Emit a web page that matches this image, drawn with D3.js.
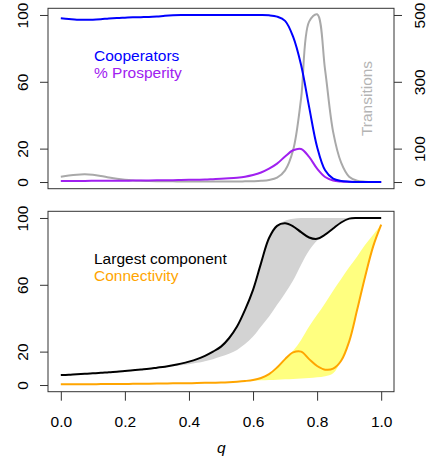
<!DOCTYPE html>
<html>
<head>
<meta charset="utf-8">
<script src="https://cdn.jsdelivr.net/npm/d3@7"></script>
<style>
  body { margin: 0; background: #fff; }
  svg text { font-family: 'Liberation Sans', Arial, sans-serif; }
</style>
</head>
<body>
<div id="chart"></div>
<script>
// q grid shared by every series
const q = [0, 0.025, 0.05, 0.075, 0.1, 0.125, 0.15, 0.175, 0.2, 0.225, 0.25, 0.275, 0.3, 0.325, 0.35, 0.375, 0.4, 0.425, 0.45, 0.475,
  0.5, 0.525, 0.55, 0.575, 0.6, 0.625, 0.65, 0.675, 0.7, 0.725, 0.75, 0.775, 0.8, 0.825, 0.85, 0.875, 0.9, 0.925, 0.95, 0.975, 1];

// top panel
const cooperators = [98, 97.6, 97.2, 97.1, 97.2, 97.5, 97.9, 98.2, 98.4, 98.6, 98.7, 98.8, 99.1, 99.5, 99.8, 100, 100, 100, 100, 100,
  100, 100, 100, 100, 100, 100, 99.8, 99, 96.5, 87, 70, 45, 21, 7, 2, 0.6, 0.2, 0, 0, 0, 0];
const prosperity = [0.6, 0.6, 0.6, 0.65, 0.7, 0.7, 0.75, 0.8, 0.8, 0.85, 0.9, 0.95, 1, 1.05, 1.1, 1.2, 1.3, 1.4, 1.5, 1.7,
  1.9, 2.2, 2.6, 3.2, 4.2, 5.7, 8, 11, 15.3, 19, 19.8, 15, 8, 3, 0.9, 0.3, 0.1, 0, 0, 0, 0];
const transitions = [16, 19.5, 22, 23, 21.5, 18, 13.5, 9.5, 6.5, 4.5, 3.5, 3, 2.5, 2, 2, 1.5, 1.5, 1.5, 1.5, 1.5,
  1.5, 1.5, 1.5, 2, 2.5, 3.5, 6, 13, 35, 95, 250, 480, 502, 335, 150, 58, 16, 4, 1, 0, 0];

// bottom panel
const largest = [6, 6.2, 6.5, 6.7, 7, 7.3, 7.7, 8, 8.4, 8.8, 9.3, 9.8, 10.4, 11, 11.8, 12.8, 14, 15.5, 17.5, 20,
  23, 28, 35, 45, 57, 73, 88, 95.3, 96.8, 95, 91.5, 88.3, 87.5, 90, 93.7, 97.3, 99.6, 100, 100, 100, 100];
const largestLow = [6, 6.2, 6.5, 6.7, 7, 7.3, 7.7, 8, 8.4, 8.8, 9.3, 9.8, 10.3, 10.7, 11.2, 11.8, 12.5, 13.3, 14.3, 15.5,
  17, 18.7, 21, 24.5, 29, 35, 41, 48, 55, 62.5, 72, 80.5, 86.5, 90, 93.7, 97.3, 99.6, 100, 100, 100, 100];
const largestHigh = [6, 6.2, 6.5, 6.7, 7, 7.3, 7.7, 8, 8.4, 8.8, 9.3, 9.8, 10.4, 11, 11.8, 12.8, 14, 15.5, 17.5, 20,
  23, 28, 35, 45, 57, 73, 88, 95.5, 98.3, 99.5, 100, 100, 100, 100, 100, 100, 100, 100, 100, 100, 100];
const connectivity = [0.4, 0.4, 0.45, 0.5, 0.5, 0.55, 0.6, 0.6, 0.65, 0.7, 0.75, 0.8, 0.85, 0.9, 1, 1.05, 1.1, 1.2, 1.3, 1.4,
  1.5, 1.7, 2, 2.4, 3, 4.2, 6.5, 10.5, 15.5, 19.5, 20, 15.5, 11.4, 9.2, 9.8, 14.5, 26, 45, 65, 83, 96];
const connLow = [0.4, 0.4, 0.45, 0.5, 0.5, 0.55, 0.6, 0.6, 0.65, 0.7, 0.75, 0.8, 0.85, 0.9, 1, 1.05, 1.1, 1.2, 1.3, 1.4,
  1.5, 1.7, 2, 2.3, 2.6, 2.8, 3, 3.2, 3.4, 3.6, 3.9, 4.2, 4.6, 5.3, 7, 14.5, 26, 45, 65, 83, 96];
const connHigh = [0.4, 0.4, 0.45, 0.5, 0.5, 0.55, 0.6, 0.6, 0.65, 0.7, 0.75, 0.8, 0.85, 0.9, 1, 1.05, 1.1, 1.2, 1.3, 1.4,
  1.5, 1.7, 2, 2.4, 3, 4.2, 6.5, 10.5, 15.5, 20.5, 27, 35, 42, 49, 56.5, 63.5, 70.5, 77, 84, 90, 96];

const xTicks = [0, 0.2, 0.4, 0.6, 0.8, 1];
const pctTicks = [0, 20, 60, 100];
const transTicks = [0, 100, 300, 500];

const width = 427, height = 463;
const fontSize = '15.5px';
const axisColor = '#333';

const svg = d3.select('#chart')
  .append('svg')
  .attr('width', width)
  .attr('height', height);

// R-style 4% padding on each axis
let x = d3.scaleLinear().domain([-0.04, 1.04]).range([48, 394]);
let yTop = d3.scaleLinear().domain([-4, 104]).range([188.7, 8.3]);
let yRight = d3.scaleLinear().domain([-20, 520]).range([188.7, 8.3]);
let yBot = d3.scaleLinear().domain([-4, 104]).range([391.7, 211.3]);

const curve = d3.curveCatmullRom.alpha(0.5);

const drawLine = (vals, yScale, color, w) => {
  svg.append('path')
    .datum(q.map((d, i) => [d, vals[i]]))
    .attr('fill', 'none')
    .attr('stroke', color)
    .attr('stroke-width', w)
    .attr('stroke-linejoin', 'round')
    .attr('d', d3.line().curve(curve).x(d => x(d[0])).y(d => yScale(d[1])));
}

const drawBand = (low, high, yScale, color) => {
  svg.append('path')
    .datum(q.map((d, i) => [d, low[i], high[i]]))
    .attr('fill', color)
    .attr('stroke', 'none')
    .attr('d', d3.area().curve(curve).x(d => x(d[0])).y0(d => yScale(d[1])).y1(d => yScale(d[2])));
}

const drawBox = (yScale) => {
  svg.append('rect')
    .attr('x', x.range()[0])
    .attr('y', yScale.range()[1])
    .attr('width', x.range()[1] - x.range()[0])
    .attr('height', yScale.range()[0] - yScale.range()[1])
    .attr('fill', 'none')
    .attr('stroke', axisColor)
    .attr('stroke-width', 1);
}

// left / right axes with labels rotated like R's las=0
const sideAxis = (scale, ticks, xPos, side) => {
  const axis = (side === 'left' ? d3.axisLeft(scale) : d3.axisRight(scale))
    .tickValues(ticks)
    .tickSize(8)
    .tickFormat('');
  const g = svg.append('g')
    .attr('transform', `translate(${xPos},0)`)
    .call(axis);
  g.select('.domain').remove();
  g.selectAll('.tick line').attr('stroke', axisColor);
  g.selectAll('.tick')
    .append('text')
    .attr('transform', side === 'left' ? 'translate(-20,0) rotate(-90)' : 'translate(31,0) rotate(-90)')
    .attr('text-anchor', 'middle')
    .attr('fill', '#000')
    .style('font-size', fontSize)
    .text(d => d);
}

// ---- top panel ----
drawLine(transitions, yRight, '#a9a9a9', 2);
drawLine(prosperity, yTop, '#a020f0', 2);
drawLine(cooperators, yTop, '#0000ff', 2);
drawBox(yTop);
sideAxis(yTop, pctTicks, 48, 'left');
sideAxis(yRight, transTicks, 394, 'right');

svg.append('text')
  .attr('x', 94).attr('y', 61)
  .attr('fill', '#0000ff')
  .style('font-size', fontSize)
  .text('Cooperators');

svg.append('text')
  .attr('x', 94).attr('y', 77.5)
  .attr('fill', '#a020f0')
  .style('font-size', fontSize)
  .text('% Prosperity');

svg.append('text')
  .attr('transform', 'translate(372,98.5) rotate(-90)')
  .attr('text-anchor', 'middle')
  .attr('fill', '#b4b4b4')
  .style('font-size', fontSize)
  .text('Transitions');

// ---- bottom panel ----
drawBand(largestLow, largestHigh, yBot, '#d3d3d3');
drawBand(connLow, connHigh, yBot, '#ffff80');
drawLine(largest, yBot, '#000000', 2);
drawLine(connectivity, yBot, '#ffa500', 2);
drawBox(yBot);
sideAxis(yBot, pctTicks, 48, 'left');

const xAxis = svg.append('g')
  .attr('transform', `translate(0,${yBot.range()[0]})`)
  .call(d3.axisBottom(x).tickValues(xTicks).tickSize(9).tickFormat(''));
xAxis.select('.domain').remove();
xAxis.selectAll('.tick line').attr('stroke', axisColor);
xAxis.selectAll('.tick')
  .append('text')
  .attr('y', 35.5)
  .attr('text-anchor', 'middle')
  .attr('fill', '#000')
  .style('font-size', fontSize)
  .text(d => d3.format('.1f')(d));

svg.append('text')
  .attr('x', 263.3 - 42).attr('y', 453)
  .attr('text-anchor', 'middle')
  .attr('fill', '#000')
  .style('font-size', fontSize)
  .style('font-style', 'italic')
  .text('q');

svg.append('text')
  .attr('x', 94).attr('y', 263.5)
  .attr('fill', '#000')
  .style('font-size', fontSize)
  .text('Largest component');

svg.append('text')
  .attr('x', 94).attr('y', 281)
  .attr('fill', '#ffa500')
  .style('font-size', fontSize)
  .text('Connectivity');
</script>
</body>
</html>
